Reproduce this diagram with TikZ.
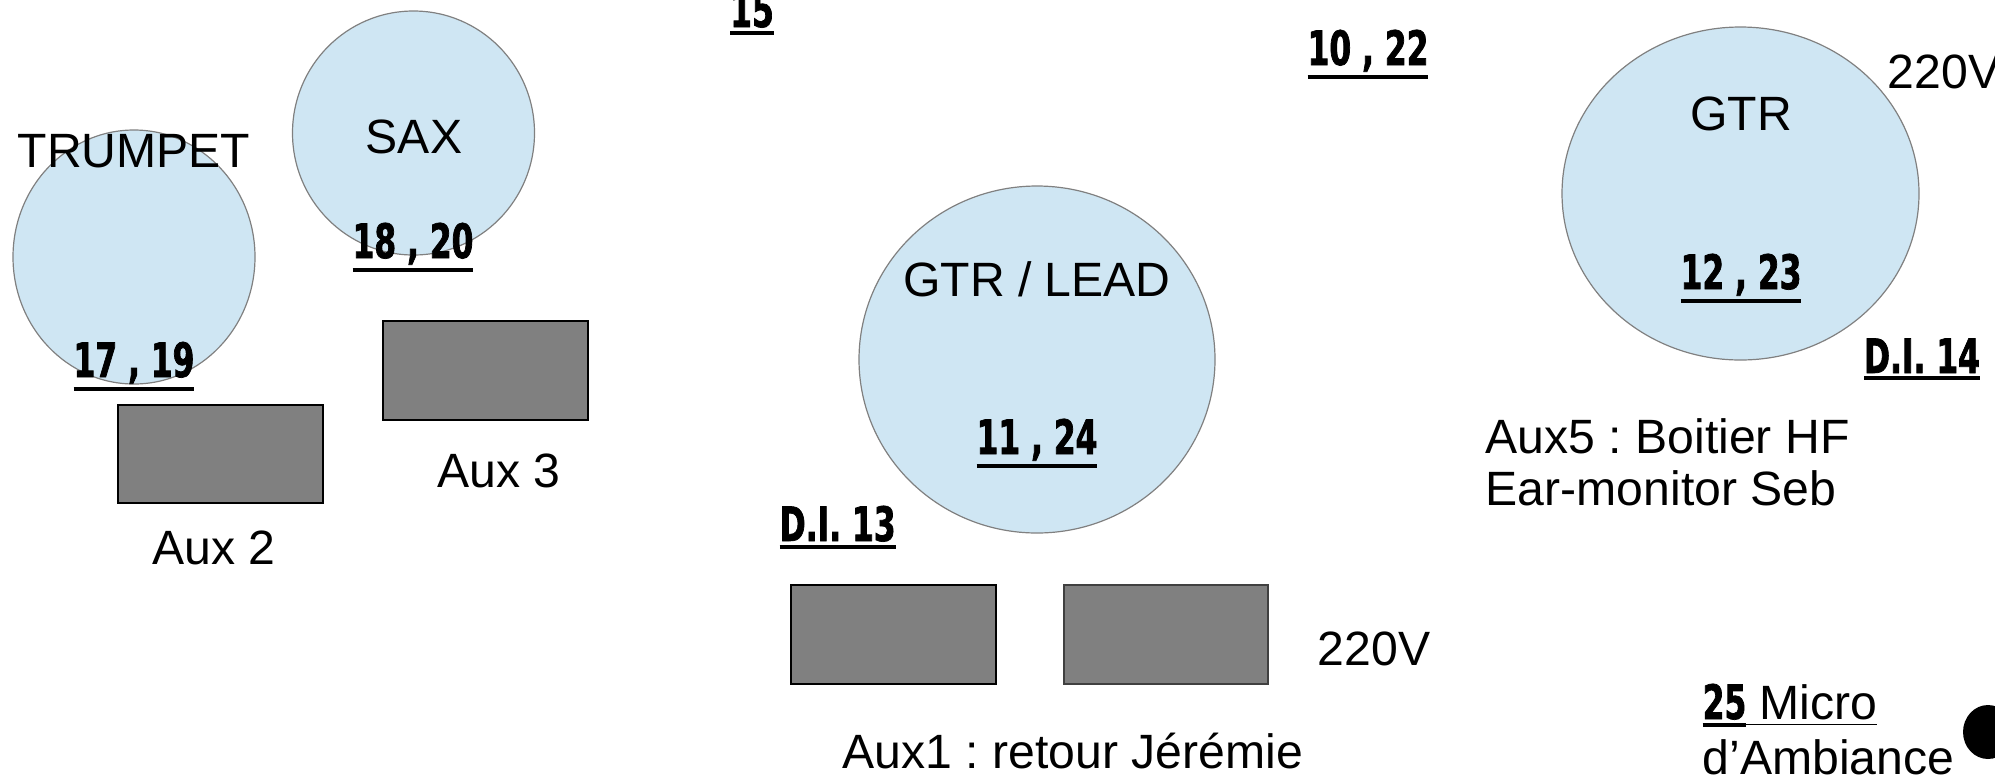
\documentclass[tikz,border=0pt]{standalone}
\usepackage{fontspec}
\setmainfont{Liberation Sans}
\newfontfamily\numfont{DejaVu Sans}[FakeStretch=0.66, FakeBold=1.5]
\definecolor{stageblue}{RGB}{207,230,243}
\definecolor{ampgray}{RGB}{128,128,128}
\newcommand{\chan}[1]{{\numfont\bfseries\fontsize{13.5}{15}\selectfont\setbox0\hbox{#1}\vtop{\copy0\kern0.9pt\hrule height 1.2pt width \wd0}}}
\tikzset{
  musician/.style={fill=stageblue, draw=gray, line width=0.012cm},
  ampbox/.style={fill=ampgray},
  txt/.style={anchor=base, inner sep=0pt}
}
\frenchspacing
\begin{document}
\begin{tikzpicture}
                \useasboundingbox (0.000000,0.000000) rectangle (19.950000,7.780000);
                {\fontsize{13.7}{15}\selectfont
                
                % Drawing circle TRUMPET
                \draw [musician] (1.340000,5.210000) ellipse (1.210000 and 1.270000);%
                \draw (1.340000,6.110000) node [txt] (trumpet) {TRUMPET};%
                \draw (1.340000,4.010000) node [txt] (ch1719) {\chan{17 , 19}};%
                
                % Drawing circle SAX
                \draw [musician] (4.135000,6.450000) ellipse (1.210000 and 1.220000);%
                \draw (4.140000,6.250000) node [txt] (sax) {SAX};%
                \draw (4.130000,5.200000) node [txt] (ch1820) {\chan{18 , 20}};%
                
                % Drawing box Aux 2
                \draw [ampbox] (1.180000,2.750000) rectangle (3.230000,3.730000);%
                \draw (2.140000,2.140000) node [txt] (aux2) {Aux 2};%
                
                % Drawing box Aux 3
                \draw [ampbox] (3.830000,3.580000) rectangle (5.880000,4.570000);%
                \draw (4.990000,2.910000) node [txt] (aux3) {Aux 3};%
                
                % Marking channel 15
                \draw (7.520000,7.510000) node [txt] (ch15) {\chan{15}};%
                
                % Marking channels 10 , 22
                \draw (13.680000,7.130000) node [txt] (ch1022) {\chan{10 , 22}};%
                
                % Drawing circle GTR / LEAD
                \draw [musician] (10.370000,4.185000) ellipse (1.780000 and 1.735000);%
                \draw (10.370000,4.820000) node [txt] (lead) {GTR / LEAD};%
                \draw (10.370000,3.240000) node [txt] (ch1124) {\chan{11 , 24}};%
                
                % Marking D.I. 13
                \draw (7.790000,2.370000) node [txt, anchor=base west] (di13) {\chan{D.I. 13}};%
                
                % Drawing boxes Aux1
                \draw [ampbox] (7.910000,0.940000) rectangle (9.960000,1.930000);%
                \draw [ampbox, draw=black!75, line width=0.012cm] (10.640000,0.940000) rectangle (12.680000,1.930000);%
                \draw (13.740000,1.130000) node [txt] (power1) {220V};%
                \draw (10.730000,0.100000) node [txt] (aux1) {Aux1 : retour Jérémie};%
                
                % Drawing circle GTR
                \draw [musician] (17.405000,5.845000) ellipse (1.785000 and 1.665000);%
                \draw (17.410000,6.480000) node [txt] (gtr) {GTR};%
                \draw (17.410000,4.890000) node [txt] (ch1223) {\chan{12 , 23}};%
                \draw (18.870000,6.900000) node [txt, anchor=base west] (power2) {220V};%
                
                % Marking D.I. 14
                \draw (19.220000,4.050000) node [txt] (di14) {\chan{D.I. 14}};%
                
                % Marking Aux5
                \draw (14.850000,3.250000) node [txt, anchor=base west] (aux5) {Aux5 : Boitier HF};%
                \draw (14.850000,2.730000) node [txt, anchor=base west] (seb) {Ear-monitor Seb};%
                
                % Marking micro 25 by dot
                \draw (17.020000,0.590000) node [txt, anchor=base west] (micro) {\chan{25}\underline{ Micro}};%
                \draw (17.020000,0.040000) node [txt, anchor=base west] (ambiance) {d’Ambiance};%
                \fill (19.880000,0.460000) ellipse (0.250000 and 0.270000);%
                }
                \end{tikzpicture}
\end{document}
